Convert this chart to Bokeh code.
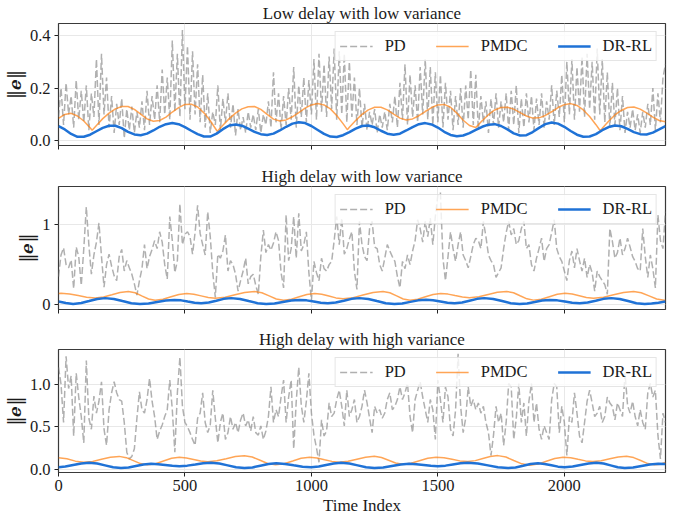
from bokeh.plotting import figure
from bokeh.layouts import column
from bokeh.models import Range1d, FixedTicker, Legend, LegendItem, NumeralTickFormatter
from bokeh.embed import file_html
from bokeh.resources import INLINE

FONT = "Liberation Serif"

titles = ["Low delay with low variance", "High delay with low variance", "High delay with high variance"]
series_names = ["PD", "PMDC", "DR-RL"]
x_ticks = [0, 500, 1000, 1500, 2000]

# time indices of the sampled PD values and of the panel-1 smooth curves
x_pd = list(range(0, 2401, 10))
x_q = list(range(0, 2401, 25))

# ---------------- Panel 1: low delay, low variance ----------------
pd1 = [0.09, 0.20, 0.06, 0.22, 0.10, 0.17, 0.05, 0.23, 0.08, 0.19,
       0.07, 0.21, 0.04, 0.18, 0.09, 0.31, 0.06, 0.33, 0.10, 0.24,
       0.05, 0.17, 0.03, 0.14, 0.06, 0.16, 0.01, 0.12, 0.04, 0.13,
       0.03, 0.11, 0.05, 0.15, 0.04, 0.19, 0.06, 0.17, 0.08, 0.21,
       0.07, 0.27, 0.10, 0.24, 0.08, 0.38, 0.11, 0.33, 0.09, 0.42,
       0.12, 0.36, 0.08, 0.34, 0.10, 0.29, 0.07, 0.25, 0.05, 0.18,
       0.03, 0.11, 0.06, 0.21, 0.04, 0.16, 0.07, 0.18, 0.05, 0.14,
       0.02, 0.12, 0.04, 0.09, 0.03, 0.11, 0.05, 0.10, 0.04, 0.12,
       0.03, 0.10, 0.06, 0.15, 0.05, 0.26, 0.07, 0.18, 0.04, 0.17,
       0.06, 0.20, 0.08, 0.28, 0.05, 0.21, 0.09, 0.24, 0.07, 0.23,
       0.10, 0.31, 0.08, 0.33, 0.11, 0.29, 0.09, 0.32, 0.12, 0.35,
       0.08, 0.34, 0.10, 0.33, 0.07, 0.30, 0.09, 0.24, 0.06, 0.20,
       0.05, 0.14, 0.04, 0.11, 0.06, 0.12, 0.03, 0.10, 0.05, 0.11,
       0.04, 0.14, 0.07, 0.17, 0.05, 0.22, 0.08, 0.29, 0.06, 0.25,
       0.09, 0.21, 0.07, 0.28, 0.10, 0.31, 0.08, 0.28, 0.06, 0.26,
       0.07, 0.25, 0.05, 0.22, 0.08, 0.19, 0.04, 0.17, 0.06, 0.20,
       0.05, 0.21, 0.08, 0.27, 0.06, 0.25, 0.04, 0.17, 0.07, 0.15,
       0.03, 0.16, 0.06, 0.18, 0.05, 0.15, 0.07, 0.18, 0.04, 0.19,
       0.06, 0.21, 0.03, 0.16, 0.05, 0.18, 0.07, 0.17, 0.04, 0.16,
       0.06, 0.18, 0.05, 0.15, 0.08, 0.21, 0.06, 0.19, 0.09, 0.25,
       0.07, 0.30, 0.10, 0.31, 0.08, 0.28, 0.11, 0.32, 0.09, 0.33,
       0.12, 0.30, 0.08, 0.35, 0.10, 0.31, 0.07, 0.26, 0.05, 0.22,
       0.06, 0.20, 0.04, 0.17, 0.03, 0.11, 0.05, 0.12, 0.04, 0.10,
       0.03, 0.11, 0.05, 0.14, 0.06, 0.20, 0.04, 0.18, 0.07, 0.24,
       0.29]
pmdc1 = [0.085, 0.100, 0.104, 0.094, 0.075, 0.049, 0.058, 0.084,
         0.105, 0.121, 0.130, 0.130, 0.119, 0.101, 0.083, 0.074,
         0.077, 0.090, 0.109, 0.126, 0.138, 0.139, 0.128, 0.106,
         0.076, 0.040, 0.059, 0.084, 0.105, 0.121, 0.129, 0.130,
         0.119, 0.100, 0.082, 0.075, 0.079, 0.091, 0.107, 0.124,
         0.136, 0.141, 0.136, 0.121, 0.096, 0.065, 0.051, 0.077,
         0.100, 0.117, 0.127, 0.127, 0.117, 0.101, 0.086, 0.079,
         0.083, 0.095, 0.111, 0.126, 0.136, 0.138, 0.127, 0.105,
         0.078, 0.058, 0.050, 0.076, 0.099, 0.117, 0.126, 0.127,
         0.120, 0.107, 0.094, 0.086, 0.087, 0.096, 0.110, 0.126,
         0.137, 0.141, 0.134, 0.117, 0.092, 0.061, 0.047, 0.074,
         0.098, 0.115, 0.126, 0.128, 0.120, 0.106, 0.090, 0.077,
         0.072]
pmdc1_vx = [133, 628, 1142, 2142]          # sharp minima of PMDC
pmdc1_vy = [0.040, 0.036, 0.042, 0.038]
drrl1 = [0.056, 0.043, 0.026, 0.015, 0.015, 0.023, 0.036, 0.049,
         0.057, 0.057, 0.048, 0.034, 0.024, 0.021, 0.027, 0.039,
         0.053, 0.063, 0.067, 0.063, 0.052, 0.038, 0.025, 0.016,
         0.016, 0.027, 0.044, 0.058, 0.062, 0.057, 0.046, 0.034,
         0.025, 0.022, 0.027, 0.039, 0.053, 0.065, 0.070, 0.067,
         0.056, 0.041, 0.026, 0.016, 0.014, 0.021, 0.033, 0.046,
         0.056, 0.058, 0.051, 0.038, 0.027, 0.023, 0.027, 0.039,
         0.052, 0.063, 0.067, 0.062, 0.050, 0.034, 0.022, 0.017,
         0.020, 0.029, 0.041, 0.053, 0.061, 0.063, 0.056, 0.043,
         0.028, 0.020, 0.021, 0.033, 0.049, 0.063, 0.069, 0.065,
         0.053, 0.037, 0.023, 0.015, 0.016, 0.025, 0.040, 0.052,
         0.058, 0.055, 0.045, 0.033, 0.025, 0.024, 0.031, 0.043,
         0.056]

# ---------------- Panel 2: high delay, low variance ----------------
pd2 = [0.35, 0.62, 0.71, 0.50, 0.46, 0.56, 0.20, 0.72, 0.60, 0.24,
       0.70, 1.22, 0.75, 0.38, 0.62, 0.78, 1.02, 0.60, 0.22, 0.50,
       0.63, 0.48, 0.36, 0.30, 0.60, 0.69, 0.42, 0.55, 0.46, 0.38,
       0.26, 0.12, 0.30, 0.45, 0.75, 0.45, 0.60, 0.69, 0.80, 0.70,
       0.91, 0.78, 0.50, 0.32, 1.10, 0.80, 0.40, 0.55, 1.26, 0.75,
       0.88, 0.91, 0.85, 0.63, 0.90, 1.24, 0.89, 0.75, 0.62, 1.16,
       0.85, 0.40, 0.09, 0.63, 0.58, 0.67, 0.87, 0.42, 0.55, 0.50,
       0.38, 0.17, 0.30, 0.42, 0.58, 0.26, 0.35, 0.38, 0.24, 0.13,
       0.60, 0.93, 0.65, 0.75, 0.68, 0.77, 0.91, 0.80, 0.40, 0.21,
       1.12, 0.55, 0.70, 1.10, 0.58, 1.14, 0.67, 0.75, 0.91, 0.40,
       0.05, 0.54, 0.40, 0.30, 0.58, 0.45, 0.42, 0.50, 0.54, 0.80,
       1.10, 0.75, 1.08, 0.63, 0.70, 0.82, 0.91, 0.42, 0.19, 1.04,
       0.75, 0.60, 0.55, 0.95, 1.04, 0.72, 0.70, 0.50, 0.42, 0.58,
       0.75, 0.67, 0.60, 0.54, 0.35, 0.21, 0.54, 0.45, 0.62, 0.50,
       0.67, 0.80, 1.06, 0.95, 0.78, 1.04, 0.85, 1.08, 0.75, 1.10,
       1.37, 1.40, 0.58, 0.30, 0.60, 0.91, 0.70, 0.54, 0.75, 0.91,
       0.62, 0.55, 0.46, 0.60, 0.75, 0.83, 0.80, 0.70, 1.04, 0.85,
       0.62, 0.55, 0.50, 0.34, 0.40, 0.46, 0.70, 0.90, 1.04, 0.87,
       0.95, 0.75, 0.80, 0.95, 1.04, 0.70, 0.75, 0.50, 0.42, 0.58,
       0.70, 0.83, 0.54, 0.70, 0.75, 0.90, 1.06, 0.70, 0.60, 0.54,
       0.42, 0.30, 0.55, 0.67, 0.46, 0.70, 0.55, 0.42, 0.58, 0.34,
       0.50, 0.40, 0.17, 0.42, 0.35, 0.30, 0.25, 0.13, 0.95, 0.79,
       0.58, 0.65, 0.83, 0.62, 0.70, 0.83, 0.72, 0.60, 0.54, 0.45,
       0.42, 0.95, 0.60, 0.34, 0.62, 0.45, 0.21, 1.12, 0.80, 0.70,
       1.16]
pmdc2_x = [0, 10, 44, 78, 111, 145, 178, 211, 243, 276, 303, 329, 356, 382, 413, 445, 476, 507,
           535, 564, 592, 620, 659, 698, 736, 775, 804, 833, 861, 890, 921, 952, 982, 1013,
           1041, 1069, 1097, 1125, 1165, 1204, 1244, 1283, 1310, 1337, 1363, 1390, 1420, 1451,
           1481, 1511, 1540, 1568, 1597, 1625, 1662, 1699, 1735, 1772, 1799, 1825, 1852, 1878,
           1909, 1941, 1972, 2003, 2031, 2059, 2087, 2115, 2155, 2195, 2234, 2274, 2304, 2335,
           2365, 2395, 2400]
pmdc2 = [0.141, 0.142, 0.134, 0.114, 0.093, 0.085, 0.097, 0.125, 0.153, 0.165, 0.149, 0.110,
         0.071, 0.055, 0.067, 0.098, 0.128, 0.140, 0.131, 0.110, 0.089, 0.080, 0.092, 0.123,
         0.153, 0.165, 0.149, 0.110, 0.071, 0.055, 0.067, 0.098, 0.128, 0.140, 0.131, 0.108,
         0.085, 0.075, 0.088, 0.120, 0.152, 0.165, 0.149, 0.110, 0.071, 0.055, 0.067, 0.098,
         0.128, 0.140, 0.132, 0.114, 0.096, 0.088, 0.099, 0.127, 0.154, 0.165, 0.149, 0.111,
         0.073, 0.057, 0.069, 0.100, 0.130, 0.142, 0.133, 0.111, 0.089, 0.080, 0.092, 0.123,
         0.153, 0.165, 0.149, 0.110, 0.071, 0.055, 0.055]
drrl2_x = [0, 29, 58, 90, 121, 153, 184, 219, 253, 288, 322, 356, 390, 424, 458, 485, 511, 538,
           564, 594, 624, 653, 683, 718, 752, 787, 821, 854, 887, 920, 953, 981, 1009, 1037,
           1065, 1096, 1128, 1159, 1190, 1225, 1259, 1294, 1328, 1359, 1391, 1422, 1453, 1481,
           1510, 1538, 1566, 1596, 1625, 1655, 1684, 1719, 1754, 1788, 1823, 1853, 1883, 1912,
           1942, 1972, 2002, 2031, 2061, 2092, 2124, 2155, 2186, 2219, 2252, 2285, 2318, 2345,
           2372, 2400]
drrl2 = [0.040, 0.022, 0.010, 0.021, 0.046, 0.072, 0.082, 0.071, 0.045, 0.019, 0.008, 0.016,
         0.034, 0.052, 0.060, 0.054, 0.039, 0.024, 0.018, 0.027, 0.050, 0.073, 0.082, 0.071,
         0.045, 0.019, 0.008, 0.016, 0.034, 0.052, 0.060, 0.054, 0.039, 0.024, 0.018, 0.027,
         0.050, 0.073, 0.082, 0.071, 0.045, 0.019, 0.008, 0.016, 0.035, 0.054, 0.062, 0.056,
         0.040, 0.024, 0.018, 0.027, 0.050, 0.073, 0.082, 0.071, 0.045, 0.019, 0.008, 0.016,
         0.034, 0.052, 0.060, 0.054, 0.039, 0.024, 0.018, 0.027, 0.050, 0.073, 0.082, 0.071,
         0.045, 0.019, 0.008, 0.014, 0.025, 0.040]

# ---------------- Panel 3: high delay, high variance ----------------
pd3 = [1.20, 1.00, 0.55, 1.33, 0.95, 1.10, 0.39, 1.13, 0.85, 0.62,
       0.31, 1.28, 0.60, 0.47, 0.86, 0.66, 0.80, 1.03, 0.47, 0.28,
       0.70, 0.90, 1.03, 0.90, 0.82, 0.80, 0.55, 0.20, 0.12, 0.15,
       0.24, 0.60, 0.91, 0.70, 0.66, 0.82, 1.07, 0.80, 0.62, 0.35,
       0.45, 0.52, 0.62, 0.70, 1.05, 0.70, 0.20, 0.90, 1.32, 0.74,
       0.55, 0.50, 0.43, 0.35, 0.28, 0.60, 0.66, 0.90, 0.55, 0.43,
       0.52, 0.93, 0.60, 0.31, 0.55, 0.66, 0.35, 0.43, 0.62, 0.47,
       0.55, 0.43, 0.58, 0.66, 0.51, 0.58, 0.45, 0.62, 0.43, 0.40,
       0.51, 0.35, 0.45, 0.62, 0.97, 0.55, 0.70, 0.62, 0.85, 1.05,
       0.55, 0.85, 1.05, 0.24, 0.80, 1.20, 0.75, 0.55, 0.80, 1.13,
       0.66, 0.40, 0.25, 0.08, 0.58, 0.39, 0.45, 0.78, 0.62, 0.66,
       0.82, 0.93, 0.74, 0.51, 0.93, 0.62, 0.70, 0.82, 0.55, 0.62,
       0.74, 0.93, 0.78, 0.60, 0.43, 0.74, 0.66, 0.70, 0.60, 0.66,
       0.82, 0.90, 0.70, 0.74, 0.82, 0.97, 0.82, 0.90, 1.01, 0.62,
       0.43, 0.82, 0.93, 1.03, 0.85, 0.70, 0.55, 0.82, 0.70, 0.35,
       1.05, 0.82, 0.55, 0.97, 0.85, 0.47, 0.39, 0.70, 1.36, 0.74,
       0.43, 0.60, 0.97, 0.74, 0.82, 0.70, 0.78, 0.66, 0.74, 0.55,
       0.43, 0.16, 0.40, 0.74, 0.55, 0.66, 0.28, 0.55, 1.01, 0.97,
       0.35, 0.60, 1.01, 0.55, 0.78, 0.39, 0.80, 1.01, 0.55, 0.78,
       0.47, 0.35, 0.51, 0.43, 0.35, 0.82, 1.01, 0.97, 0.43, 0.74,
       0.55, 0.16, 0.62, 0.55, 0.90, 0.66, 0.39, 0.31, 0.55, 0.80,
       0.93, 0.78, 0.62, 0.66, 0.74, 0.55, 0.62, 0.85, 0.78, 0.74,
       0.58, 0.78, 0.70, 0.62, 1.13, 0.75, 0.66, 0.80, 0.62, 0.51,
       0.70, 0.55, 0.47, 0.90, 1.01, 0.85, 0.93, 0.40, 0.12, 0.66,
       0.55]
pmdc3_x = [0, 33, 67, 100, 135, 170, 205, 240, 268, 296, 324, 352, 384, 415, 447, 478, 506, 534,
           562, 590, 626, 663, 699, 735, 766, 797, 827, 858, 892, 926, 959, 993, 1022, 1052,
           1081, 1110, 1145, 1180, 1214, 1249, 1277, 1305, 1333, 1361, 1394, 1427, 1460, 1493,
           1524, 1556, 1587, 1618, 1648, 1678, 1707, 1737, 1769, 1800, 1832, 1863, 1896, 1929,
           1962, 1995, 2025, 2054, 2084, 2113, 2146, 2180, 2213, 2246, 2274, 2302, 2330, 2358,
           2379, 2400]
pmdc3 = [0.135, 0.122, 0.094, 0.080, 0.090, 0.115, 0.140, 0.150, 0.135, 0.100, 0.065, 0.050,
         0.063, 0.095, 0.127, 0.140, 0.132, 0.114, 0.096, 0.088, 0.098, 0.123, 0.148, 0.158,
         0.142, 0.104, 0.066, 0.050, 0.063, 0.095, 0.127, 0.140, 0.132, 0.111, 0.091, 0.082,
         0.092, 0.117, 0.141, 0.151, 0.137, 0.105, 0.072, 0.058, 0.070, 0.099, 0.128, 0.140,
         0.133, 0.115, 0.097, 0.090, 0.100, 0.125, 0.149, 0.159, 0.142, 0.102, 0.062, 0.045,
         0.059, 0.093, 0.126, 0.140, 0.133, 0.115, 0.097, 0.090, 0.099, 0.121, 0.142, 0.151,
         0.136, 0.101, 0.065, 0.050, 0.058, 0.078]
drrl3_x = [0, 27, 58, 90, 121, 153, 184, 216, 247, 277, 306, 336, 366, 394, 422, 450, 478, 509,
           541, 572, 603, 636, 669, 702, 735, 767, 798, 830, 861, 896, 930, 965, 999, 1029,
           1058, 1088, 1117, 1150, 1183, 1216, 1249, 1284, 1318, 1353, 1387, 1415, 1444, 1472,
           1500, 1530, 1559, 1589, 1618, 1658, 1698, 1737, 1777, 1807, 1837, 1866, 1896, 1922,
           1949, 1975, 2001, 2033, 2064, 2096, 2127, 2155, 2183, 2211, 2239, 2272, 2305, 2338,
           2371, 2400]
drrl3 = [0.022, 0.030, 0.049, 0.067, 0.075, 0.066, 0.044, 0.021, 0.012, 0.019, 0.037, 0.055,
         0.062, 0.058, 0.049, 0.039, 0.035, 0.041, 0.055, 0.069, 0.075, 0.066, 0.044, 0.021,
         0.012, 0.020, 0.040, 0.060, 0.068, 0.061, 0.045, 0.029, 0.022, 0.030, 0.049, 0.067,
         0.075, 0.066, 0.044, 0.021, 0.012, 0.019, 0.037, 0.055, 0.062, 0.058, 0.049, 0.039,
         0.035, 0.041, 0.055, 0.069, 0.075, 0.066, 0.044, 0.021, 0.012, 0.020, 0.040, 0.060,
         0.068, 0.061, 0.045, 0.029, 0.022, 0.030, 0.049, 0.067, 0.075, 0.066, 0.044, 0.021,
         0.012, 0.019, 0.037, 0.055, 0.062, 0.060]

y_ticks = [[0.0, 0.2, 0.4], [0, 1], [0.0, 0.5, 1.0]]
y_fmt = ["0.0", "0", "0.0"]
y_lims = [(-0.018, 0.445), (-0.06, 1.475), (-0.04, 1.41)]

# merge PMDC panel-1 grid and its sharp minima, ordered by time index
_m1 = sorted(list(zip(x_q, pmdc1)) + list(zip(pmdc1_vx, pmdc1_vy)))
pmdc1_x_all = [a for a, _ in _m1]
pmdc1_all = [b for _, b in _m1]

panels = [
    (x_pd, pd1, pmdc1_x_all, pmdc1_all, x_q, drrl1),
    (x_pd, pd2, pmdc2_x, pmdc2, drrl2_x, drrl2),
    (x_pd, pd3, pmdc3_x, pmdc3, drrl3_x, drrl3),
]

PD_COLOR, PMDC_COLOR, DR_COLOR = "#8a8a8a", "#ff7f0e", "#1f72d6"
TXT = "#1a1a1a"

frame_h = [122, 123, 123]
border_top = [17, 23, 23]
border_bottom = [18, 17, 40]

figs = []
for i, (xp, yp, xm, ym, xd, yd) in enumerate(panels):
    last = (i == 2)
    p = figure(frame_width=607, frame_height=frame_h[i],
               x_range=Range1d(0, 2400), y_range=Range1d(*y_lims[i]),
               output_backend="svg", toolbar_location=None,
               min_border_left=53, min_border_right=10,
               min_border_top=border_top[i], min_border_bottom=border_bottom[i],
               title=titles[i])
    p.title.text_font = FONT
    p.title.text_font_size = "17px"
    p.title.text_font_style = "normal"
    p.title.text_color = TXT
    p.title.align = "center"
    p.title.standoff = 2

    p.outline_line_color = "#3a3a3a"
    p.outline_line_width = 1.2
    p.background_fill_color = "white"
    p.border_fill_color = "white"
    p.xgrid.grid_line_color = "#e8e8e8"
    p.ygrid.grid_line_color = "#e8e8e8"

    p.xaxis.ticker = FixedTicker(ticks=x_ticks)
    p.yaxis.ticker = FixedTicker(ticks=y_ticks[i])
    p.xaxis.formatter = NumeralTickFormatter(format="0")
    p.yaxis.formatter = NumeralTickFormatter(format=y_fmt[i])
    for ax in (p.xaxis[0], p.yaxis[0]):
        ax.axis_line_color = None
        ax.major_tick_line_color = "#222222"
        ax.major_tick_out = 4
        ax.major_tick_in = 0
        ax.minor_tick_line_color = None
        ax.major_label_text_font = FONT
        ax.major_label_text_font_size = "16.5px"
        ax.major_label_text_color = TXT
        ax.major_label_standoff = 4
    if not last:
        # shared x axis: tick marks only, labels not drawn
        p.xaxis.major_label_text_font_size = "2px"
        p.xaxis.major_label_text_color = None
        p.xaxis.major_label_text_alpha = 0
        p.xaxis.major_label_standoff = 0
    else:
        p.xaxis.major_label_standoff = 3
        p.xaxis.axis_label = "Time Index"
        p.xaxis.axis_label_text_font = FONT
        p.xaxis.axis_label_text_font_size = "17px"
        p.xaxis.axis_label_text_font_style = "normal"
        p.xaxis.axis_label_text_color = TXT
        p.xaxis.axis_label_standoff = 2

    p.yaxis.axis_label = "\u2016\U0001D486\u2016"
    p.yaxis.axis_label_text_font = "DejaVu Serif"
    p.yaxis.axis_label_text_font_size = "18px"
    p.yaxis.axis_label_text_font_style = "normal"
    p.yaxis.axis_label_text_color = TXT
    p.yaxis.axis_label_standoff = 2

    r_pd = p.line(xp, yp, line_color=PD_COLOR, line_alpha=0.68, line_width=1.5, line_dash="7 3")
    r_pm = p.line(xm, ym, line_color=PMDC_COLOR, line_alpha=0.7, line_width=1.5)
    r_dr = p.line(xd, yd, line_color=DR_COLOR, line_width=2.5)

    legend = Legend(items=[LegendItem(label=series_names[0], renderers=[r_pd]),
                           LegendItem(label=series_names[1], renderers=[r_pm]),
                           LegendItem(label=series_names[2], renderers=[r_dr])],
                    orientation="horizontal", location="top_right")
    legend.margin = 8
    legend.padding = 4
    legend.spacing = 30
    legend.glyph_width = 33
    legend.glyph_height = 18
    legend.label_standoff = 12
    legend.label_height = 18
    legend.label_text_font = FONT
    legend.label_text_font_size = "16.5px"
    legend.label_text_color = TXT
    legend.border_line_color = "#cccccc"
    legend.border_line_width = 1
    legend.background_fill_color = "white"
    legend.background_fill_alpha = 0.8
    p.add_layout(legend, "center")
    figs.append(p)

layout = column(*figs, spacing=0)
open("out.html", "w").write(file_html(layout, INLINE))
